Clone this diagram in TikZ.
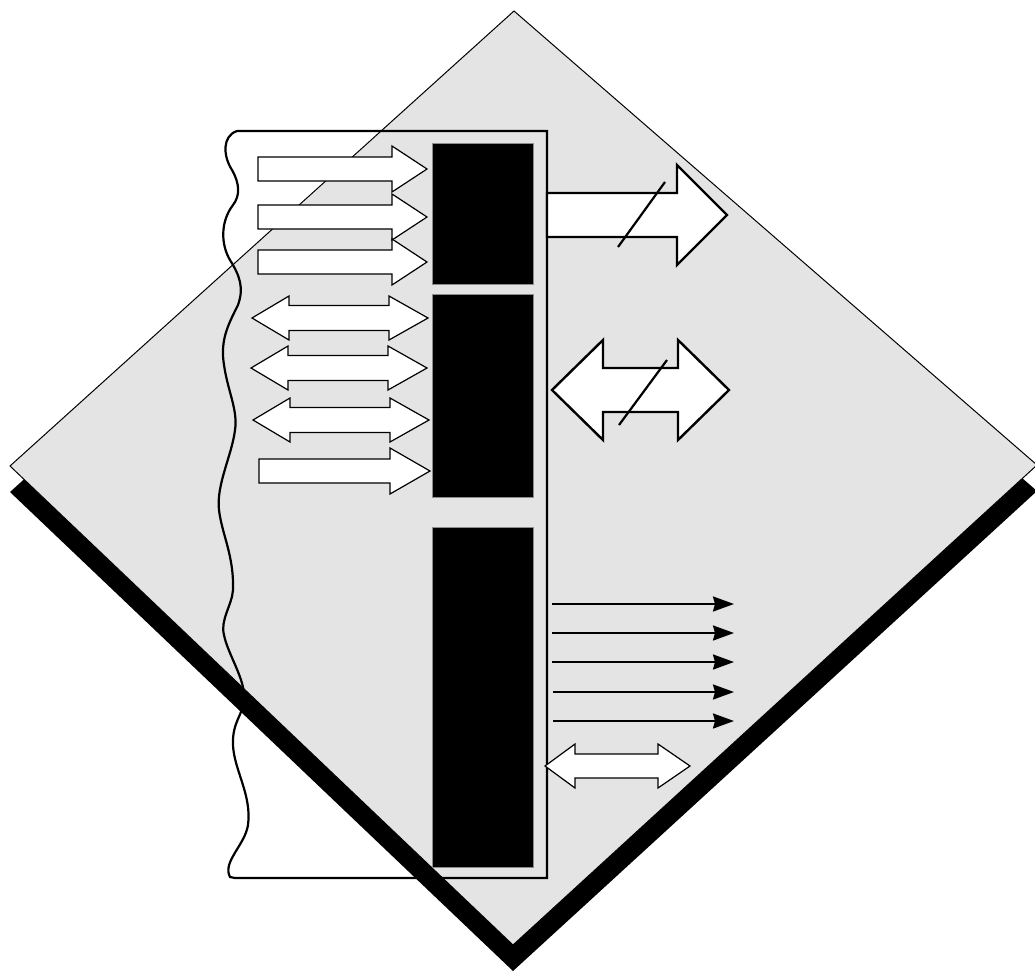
\documentclass[tikz,border=0pt]{standalone}
\usetikzlibrary{arrows.meta}
\definecolor{paper}{RGB}{228,228,228}
\tikzset{
  diamondedge/.style={fill=paper,draw=black,line width=1pt,line join=miter},
  shadowshape/.style={fill=black},
  panelline/.style={draw=black,line width=2.2pt},
  blackblock/.style={fill=black,draw=black!45,line width=0.8pt},
  smallarrow/.style={fill=white,draw=black,line width=1.2pt,line join=miter},
  bigarrow/.style={fill=white,draw=black,line width=2.4pt,line join=miter},
  slash/.style={draw=black,line width=2.2pt},
  thinarrow/.style={draw=black,line width=2.2pt,-{Stealth[length=21pt,width=15pt,inset=2pt]}}
}
% single right arrow: x-left, x-headbase, x-tip, y, body half, head half
\newcommand{\myRArrow}[7]{%
  \draw[#1] ({#2},{#5-#6}) -- ({#3},{#5-#6}) -- ({#3},{#5-#7}) -- ({#4},{#5})
    -- ({#3},{#5+#7}) -- ({#3},{#5+#6}) -- ({#2},{#5+#6}) -- cycle;}
% double arrow: left tip, left base, right base, right tip, y, body half, head half
\newcommand{\myDArrow}[8]{%
  \draw[#1] ({#2},{#6}) -- ({#3},{#6-#8}) -- ({#3},{#6-#7}) -- ({#4},{#6-#7})
    -- ({#4},{#6-#8}) -- ({#5},{#6}) -- ({#4},{#6+#8}) -- ({#4},{#6+#7})
    -- ({#3},{#6+#7}) -- ({#3},{#6+#8}) -- cycle;}
\begin{document}
\begin{tikzpicture}[x=1pt,y=-1pt]
\useasboundingbox (0,0) rectangle (1035,972);
% shadow and diamond
\fill[shadowshape] (514,37) -- (1037,491) -- (513,971) -- (10,492) -- cycle;
\path[diamondedge] (514,11) -- (1037,465) -- (513,945) -- (10,466) -- cycle;
% panel with torn left edge
\draw[panelline] (547,131) -- (237,131)
  .. controls (222,136) and (223,156) .. (232,170)
  .. controls (240,184) and (240,196) .. (233,205)
  .. controls (220,222) and (221,245) .. (230,260)
  .. controls (240,276) and (244,288) .. (238,305)
  .. controls (228,325) and (220,340) .. (224,365)
  .. controls (228,392) and (238,410) .. (235,430)
  .. controls (232,455) and (216,485) .. (219,510)
  .. controls (222,535) and (234,555) .. (233,590)
  .. controls (232,605) and (220,620) .. (224,635)
  .. controls (228,655) and (246,680) .. (244,700)
  .. controls (243,715) and (232,722) .. (233,745)
  .. controls (234,770) and (252,795) .. (248,825)
  .. controls (245,845) and (222,862) .. (230,877)
  -- (235,878) -- (547,878) -- cycle;
% black blocks
\path[blackblock] (432,143) rectangle (533,284);
\path[blackblock] (432,294) rectangle (533,497);
\path[blackblock] (432,527) rectangle (533,867);
% input arrows
\myRArrow{smallarrow}{258}{392}{427}{169}{12}{23}
\myRArrow{smallarrow}{258}{392}{427}{217}{12}{23}
\myRArrow{smallarrow}{258}{392}{427}{262}{12}{23}
\myDArrow{smallarrow}{252}{289}{389}{428}{318}{12.5}{22}
\myDArrow{smallarrow}{251}{288}{388}{427}{368}{12.5}{22}
\myDArrow{smallarrow}{253}{290}{390}{429}{420}{12.5}{22}
\myRArrow{smallarrow}{259}{390}{430}{471}{12}{23}
% big output arrows
\myRArrow{bigarrow}{547}{677}{727}{215}{22}{50}
\draw[slash] (618,247) -- (665,182);
\myDArrow{bigarrow}{552}{603}{678}{729}{390}{22}{50}
\draw[slash] (619,425) -- (667,360);
% thin arrows
\coordinate (t1a) at (552,604); \coordinate (t1b) at (734,604);
\coordinate (t2a) at (552,633); \coordinate (t2b) at (734,633);
\coordinate (t3a) at (552,662); \coordinate (t3b) at (734,662);
\coordinate (t4a) at (553,692); \coordinate (t4b) at (734,692);
\coordinate (t5a) at (553,721); \coordinate (t5b) at (734,721);
\draw[thinarrow] (t1a) -- (t1b);
\draw[thinarrow] (t2a) -- (t2b);
\draw[thinarrow] (t3a) -- (t3b);
\draw[thinarrow] (t4a) -- (t4b);
\draw[thinarrow] (t5a) -- (t5b);
% small bidirectional arrow
\myDArrow{smallarrow}{545}{575}{658}{690}{766}{12}{22}
\end{tikzpicture}
\end{document}
